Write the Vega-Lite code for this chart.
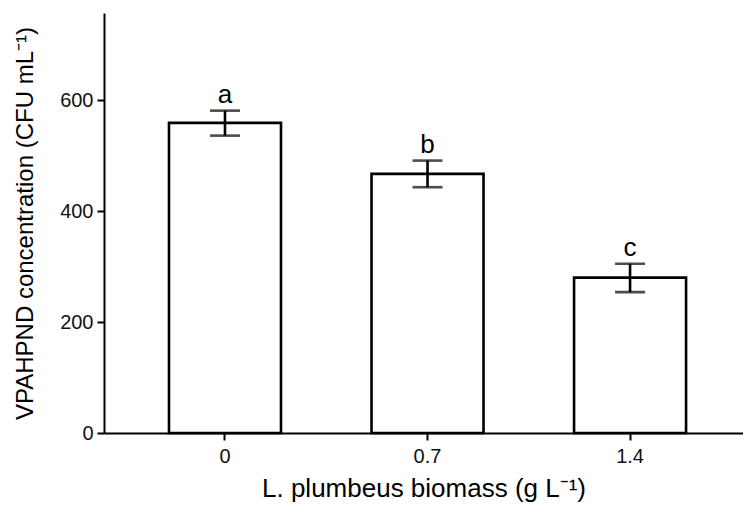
{
  "$schema": "https://vega.github.io/schema/vega-lite/v6.json",
  "width": 639,
  "height": 420,
  "autosize": "none",
  "padding": {"left": 104, "top": 13, "right": 0, "bottom": 74},
  "background": "white",
  "config": {
    "font": "Liberation Sans",
    "view": {"stroke": null},
    "axis": {
      "domainColor": "black",
      "domainWidth": 2,
      "tickColor": "black",
      "tickWidth": 2,
      "tickSize": 7,
      "labelColor": "#111111",
      "labelFontSize": 20,
      "labelFont": "Liberation Sans",
      "titleFont": "Liberation Sans",
      "titleFontSize": 25,
      "titleFontWeight": "normal",
      "titleColor": "black",
      "grid": false
    }
  },
  "data": {
    "values": [
      {"biomass": "0", "mean": 559, "lo": 536, "hi": 581, "letter": "a"},
      {"biomass": "0.7", "mean": 467, "lo": 443, "hi": 491, "letter": "b"},
      {"biomass": "1.4", "mean": 280, "lo": 254, "hi": 305, "letter": "c"}
    ]
  },
  "encoding": {
    "x": {
      "field": "biomass",
      "type": "nominal",
      "sort": ["0", "0.7", "1.4"],
      "scale": {"paddingInner": 0.447, "paddingOuter": 0.301, "align": 0.533},
      "axis": {
        "title": "L. plumbeus biomass (g L⁻¹)",
        "labelAngle": 0,
        "labelPadding": 6,
        "titlePadding": 9,
        "titleFontSize": 26
      }
    }
  },
  "layer": [
    {
      "mark": {"type": "bar", "fill": "white", "stroke": "black", "strokeWidth": 2.6},
      "encoding": {
        "y": {
          "field": "mean",
          "type": "quantitative",
          "scale": {"domain": [0, 757], "nice": false},
          "axis": {
            "title": "VPAHPND concentration (CFU mL⁻¹)",
            "values": [0, 200, 400, 600],
            "labelPadding": 4,
            "titlePadding": 22,
            "titleFontSize": 24
          }
        }
      }
    },
    {
      "mark": {"type": "rule", "stroke": "black", "strokeWidth": 2.6},
      "encoding": {
        "y": {"field": "lo", "type": "quantitative"},
        "y2": {"field": "hi"}
      }
    },
    {
      "mark": {"type": "tick", "color": "black", "size": 30, "thickness": 2.6},
      "encoding": {
        "y": {"field": "lo", "type": "quantitative"}
      }
    },
    {
      "mark": {"type": "tick", "color": "black", "size": 30, "thickness": 2.6},
      "encoding": {
        "y": {"field": "hi", "type": "quantitative"}
      }
    },
    {
      "mark": {"type": "text", "fontSize": 26, "baseline": "alphabetic", "dy": -8, "color": "black", "font": "Liberation Sans"},
      "encoding": {
        "y": {"field": "hi", "type": "quantitative"},
        "text": {"field": "letter"}
      }
    }
  ]
}
